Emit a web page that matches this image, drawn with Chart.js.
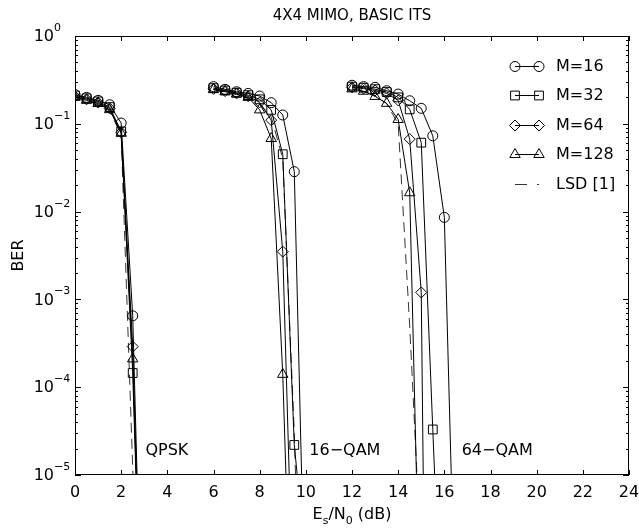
<!DOCTYPE html>
<html>
<head>
<meta charset="utf-8">
<title>4X4 MIMO, BASIC ITS</title>
<script src="https://cdn.jsdelivr.net/npm/chart.js@4.4.1/dist/chart.umd.min.js"></script>
<style>
  html, body { margin: 0; padding: 0; background: #fff; }
  #wrap { position: relative; width: 639px; height: 531px; }
</style>
</head>
<body>
<div id="wrap"><canvas id="berChart"></canvas></div>
<script>
// Es/N0 sample points (dB) of each modulation group
const qpskSnr = [0, 0.5, 1, 1.5, 2, 2.5, 3];
const qam16Snr = [6, 6.5, 7, 7.5, 8, 8.5, 9, 9.5, 10];
const qam64Snr = [12, 12.5, 13, 13.5, 14, 14.5, 15, 15.5, 16, 16.5];

// BER (null = no point). The last value of a curve lies below 1e-5,
// it only gives the direction the line leaves the axes.
const m16Qpsk = [0.215, 0.2, 0.185, 0.165, 0.102, 6.5e-4, 1e-8];
const m16Qam16 = [0.265, 0.247, 0.232, 0.222, 0.207, 0.174, 0.126, 0.0285, 1e-7];
const m16Qam64 = [0.275, 0.265, 0.26, 0.238, 0.218, 0.183, 0.15, 0.073, 8.6e-3, 1.1e-7];

const m32Qpsk = [0.21, 0.195, 0.18, 0.155, 0.082, 1.45e-4, 1e-8];
const m32Qam16 = [0.255, 0.24, 0.226, 0.212, 0.19, 0.144, 0.045, 2.2e-5, 1e-6];
const m32Qam64 = [0.265, 0.258, 0.248, 0.23, 0.2, 0.146, 0.061, 3.3e-5, 2e-8, null];

const m64Qpsk = [0.205, 0.19, 0.175, 0.15, 0.08, 2.9e-4, 1e-8];
const m64Qam16 = [0.25, 0.236, 0.222, 0.206, 0.175, 0.11, 3.5e-3, 1e-7, null];
const m64Qam64 = [0.26, 0.252, 0.24, 0.222, 0.185, 0.067, 1.2e-3, 1e-15, null, null];

const m128Qpsk = [0.2, 0.185, 0.17, 0.145, 0.078, 2.1e-4, 1e-8];
const m128Qam16 = [0.245, 0.232, 0.218, 0.2, 0.144, 0.068, 1.4e-4, 1e-8, null];
const m128Qam64 = [0.25, 0.235, 0.205, 0.171, 0.112, 0.0164, 5e-8, null, null, null];

const lsdQpsk = [0.2, 0.185, 0.165, 0.14, 0.075, 1.2e-5, 1e-9];
const lsdQam16 = [0.245, 0.23, 0.215, 0.198, 0.17, 0.12, 0.04, 3e-5, 1e-9];
const lsdQam64 = [0.25, 0.235, 0.21, 0.17, 0.1, 5e-4, 1e-6, null, null, null];

const seriesLabels = ['M=16', 'M=32', 'M=64', 'M=128', 'LSD [1]'];
const groupLabels = ['QPSK', '16\u2212QAM', '64\u2212QAM'];

// axis ticks
const xTickValues = [0, 2, 4, 6, 8, 10, 12, 14, 16, 18, 20, 22, 24];
const yDecades = [0, -1, -2, -3, -4, -5];
const yMinorSteps = [2, 3, 4, 5, 6, 7, 8, 9];

const FONT = '"DejaVu Sans", "Liberation Sans", sans-serif';

// join the three groups into one line, with a gap between groups
function toPoints(ys1, ys2, ys3) {
    const groups = [[qpskSnr, ys1], [qam16Snr, ys2], [qam64Snr, ys3]];
    const pts = [];
    groups.forEach(([xs, ys], gi) => {
        if (gi > 0) pts.push({ x: xs[0] - 1, y: null });
        xs.forEach((xv, i) => {
            if (ys[i] !== null) pts.push({ x: xv, y: ys[i] });
        });
    });
    return pts;
}

function markerSet(label, data, style, radius) {
    return {
        label: label,
        data: data,
        borderColor: '#000',
        borderWidth: 1,
        pointStyle: style,
        pointRadius: radius,
        pointBorderWidth: 1,
        pointBorderColor: '#000',
        pointBackgroundColor: 'rgba(0,0,0,0)',
        tension: 0,
        fill: false,
        spanGaps: false
    };
}

const datasets = [
    markerSet(seriesLabels[0], toPoints(m16Qpsk, m16Qam16, m16Qam64), 'circle', 5),
    markerSet(seriesLabels[1], toPoints(m32Qpsk, m32Qam16, m32Qam64), 'rect', 6.2),
    markerSet(seriesLabels[2], toPoints(m64Qpsk, m64Qam16, m64Qam64), 'rectRot', 5.5),
    markerSet(seriesLabels[3], toPoints(m128Qpsk, m128Qam16, m128Qam64), 'triangle', 6),
    {
        label: seriesLabels[4],
        data: toPoints(lsdQpsk, lsdQam16, lsdQam64),
        borderColor: '#333',
        borderWidth: 1,
        borderDash: [10, 6],
        pointRadius: 0,
        tension: 0,
        fill: false,
        spanGaps: false
    }
];

function drawMarker(ctx, style, radius, x, y) {
    ctx.save();
    ctx.fillStyle = 'rgba(0,0,0,0)';
    ctx.strokeStyle = '#000';
    ctx.lineWidth = 1;
    if (Chart.helpers && Chart.helpers.drawPoint) {
        Chart.helpers.drawPoint(ctx, { pointStyle: style, radius: radius, borderWidth: 1, rotation: 0 }, x, y);
    }
    ctx.restore();
}

// MATLAB-like frame: box, inward ticks, labels, legend and group names
const matlabAxes = {
    id: 'matlabAxes',
    afterDraw(chart) {
        const ctx = chart.ctx;
        const a = chart.chartArea;
        const xs = chart.scales.x;
        const ys = chart.scales.y;
        ctx.save();
        ctx.strokeStyle = '#000';
        ctx.fillStyle = '#000';
        ctx.lineWidth = 1;
        ctx.strokeRect(a.left + 0.5, a.top + 0.5, a.right - a.left - 1, a.bottom - a.top - 1);

        // y ticks (major + minor), both sides
        ctx.beginPath();
        yDecades.forEach(e => {
            const py = Math.round(ys.getPixelForValue(Math.pow(10, e))) + 0.5;
            ctx.moveTo(a.left, py); ctx.lineTo(a.left + 6, py);
            ctx.moveTo(a.right, py); ctx.lineTo(a.right - 6, py);
            if (e > -5) {
                yMinorSteps.forEach(m => {
                    const pm = Math.round(ys.getPixelForValue(m * Math.pow(10, e - 1))) + 0.5;
                    ctx.moveTo(a.left, pm); ctx.lineTo(a.left + 3, pm);
                    ctx.moveTo(a.right, pm); ctx.lineTo(a.right - 3, pm);
                });
            }
        });
        // x ticks, bottom and top
        xTickValues.forEach(v => {
            const px = Math.round(xs.getPixelForValue(v)) + 0.5;
            ctx.moveTo(px, a.bottom); ctx.lineTo(px, a.bottom - 5);
            ctx.moveTo(px, a.top); ctx.lineTo(px, a.top + 5);
        });
        ctx.stroke();

        // x tick labels
        ctx.font = '16px ' + FONT;
        ctx.textAlign = 'center';
        ctx.textBaseline = 'alphabetic';
        xTickValues.forEach(v => {
            ctx.fillText(String(v), xs.getPixelForValue(v), a.bottom + 22);
        });

        // y tick labels 10^e
        yDecades.forEach(e => {
            const py = ys.getPixelForValue(Math.pow(10, e));
            ctx.font = '16px ' + FONT;
            ctx.textAlign = 'right';
            ctx.textBaseline = 'middle';
            ctx.fillText('10', a.left - 21, py + 1);
            ctx.font = '11px ' + FONT;
            ctx.textAlign = 'left';
            ctx.textBaseline = 'alphabetic';
            ctx.fillText(e === 0 ? '0' : '\u2212' + Math.abs(e), a.left - 21, py - 5);
        });

        // y axis title
        ctx.save();
        ctx.translate(19, (a.top + a.bottom) / 2);
        ctx.rotate(-Math.PI / 2);
        ctx.font = '16px ' + FONT;
        ctx.textAlign = 'center';
        ctx.textBaseline = 'middle';
        ctx.fillText('BER', 0, 0);
        ctx.restore();

        // x axis title E_s/N_0 (dB)
        const parts = [['E', 16, 0], ['s', 11, 5], ['/N', 16, 0], ['0', 11, 5], [' (dB)', 16, 0]];
        let total = 0;
        parts.forEach(p => { ctx.font = p[1] + 'px ' + FONT; total += ctx.measureText(p[0]).width; });
        let cx = (a.left + a.right) / 2 - total / 2;
        ctx.textAlign = 'left';
        ctx.textBaseline = 'alphabetic';
        parts.forEach(p => {
            ctx.font = p[1] + 'px ' + FONT;
            ctx.fillText(p[0], cx, a.bottom + 44 + p[2]);
            cx += ctx.measureText(p[0]).width;
        });

        // group names
        ctx.font = '16px ' + FONT;
        const groupX = [3.05, 10.15, 16.75];
        groupLabels.forEach((t, i) => {
            ctx.fillText(t, xs.getPixelForValue(groupX[i]), ys.getPixelForValue(1.7e-5));
        });

        // legend
        chart.data.datasets.forEach((ds, i) => {
            const ly = Math.round(a.top + 30 + i * 29.4) + 0.5;
            const x1 = a.right - 114, x2 = a.right - 90;
            ctx.save();
            ctx.strokeStyle = ds.borderColor;
            ctx.lineWidth = 1;
            if (ds.borderDash) ctx.setLineDash([12, 10]);
            ctx.beginPath();
            ctx.moveTo(x1, ly); ctx.lineTo(x2, ly);
            ctx.stroke();
            ctx.restore();
            if (ds.pointRadius > 0) {
                drawMarker(ctx, ds.pointStyle, ds.pointRadius, x1, ly);
                drawMarker(ctx, ds.pointStyle, ds.pointRadius, x2, ly);
            }
            ctx.font = '16px ' + FONT;
            ctx.textAlign = 'left';
            ctx.textBaseline = 'middle';
            ctx.fillStyle = '#000';
            ctx.fillText(ds.label, a.right - 73, ly);
        });
        ctx.restore();
    }
};

new Chart(document.getElementById('berChart').getContext('2d'), {
    type: 'line',
    data: { datasets: datasets },
    options: {
        responsive: true,
        maintainAspectRatio: false,
        animation: false,
        events: [],
        layout: { padding: { left: 75, right: 10, top: 0, bottom: 56 } },
        scales: {
            x: { type: 'linear', min: 0, max: 24, display: false },
            y: { type: 'logarithmic', min: 1e-5, max: 1, display: false }
        },
        plugins: {
            legend: { display: false },
            tooltip: { enabled: false },
            title: {
                display: true,
                fullSize: false,
                text: '4X4 MIMO, BASIC ITS',
                color: '#000',
                font: { family: FONT, size: 15, weight: 'normal' },
                padding: { top: 7, bottom: 11 }
            }
        }
    },
    plugins: [matlabAxes]
});
</script>
</body>
</html>
